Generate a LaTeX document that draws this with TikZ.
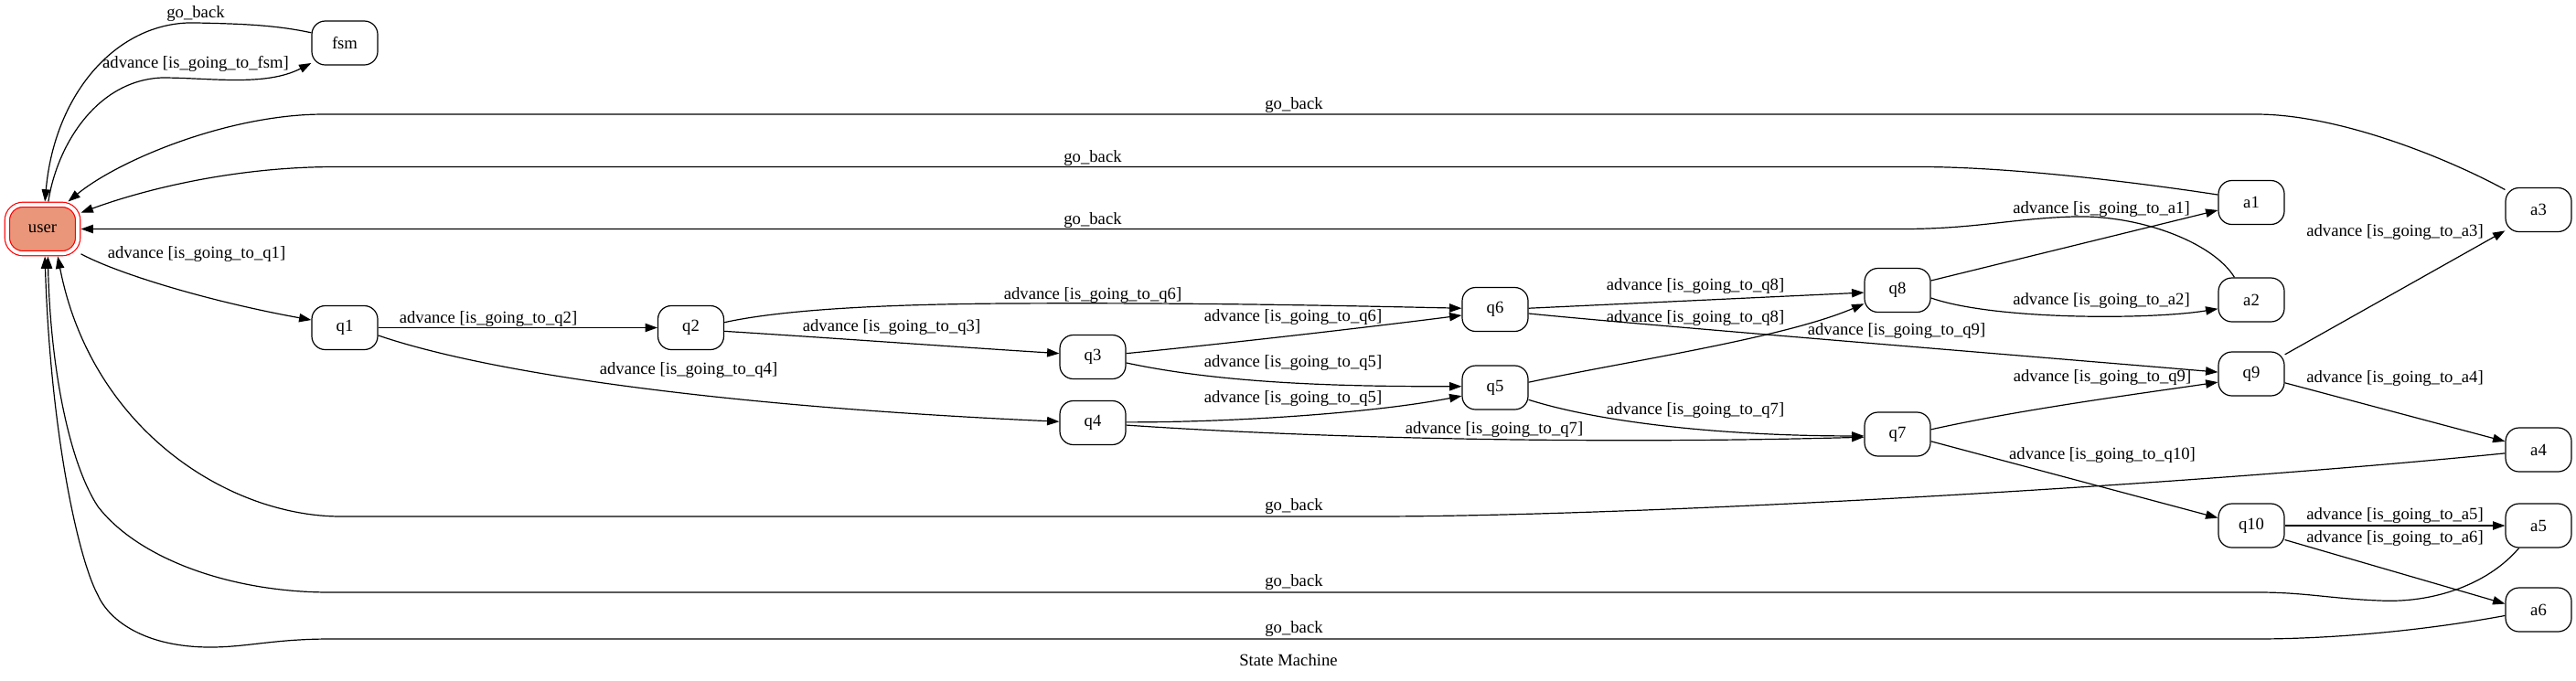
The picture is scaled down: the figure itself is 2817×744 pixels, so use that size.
\documentclass[tikz,border=0pt]{standalone}
\usepackage{fontspec}
\setmainfont{Liberation Serif}
\usetikzlibrary{arrows.meta}
\definecolor{salmonfill}{RGB}{233,150,122}
\begin{document}
\begin{tikzpicture}[x=0.75pt,y=-0.75pt,
  st/.style={draw, rounded corners=11pt, minimum width=54pt, minimum height=36pt, inner sep=0pt, font=\fontsize{14}{16}\selectfont, line width=0.9pt},
  startst/.style={draw=red, fill=salmonfill, double=white, double distance=3pt, rounded corners=13pt, minimum width=58pt, minimum height=40pt, inner sep=0pt, outer sep=2.5pt, line width=0.9pt, font=\fontsize{14}{16}\selectfont},
  lab/.style={font=\fontsize{14}{16}\selectfont, inner sep=0pt},
  edge/.style={draw, line width=0.9pt, -{Triangle[length=10pt,width=7pt]}},
]
\useasboundingbox (0,0) rectangle (2817,744);

% nodes
\node[startst] (user) at (46.5,250.5) {user};
\node[st] (fsm) at (377,47) {fsm};
\node[st] (q1) at (377,358.5) {q1};
\node[st] (q2) at (755.5,358.5) {q2};
\node[st] (q3) at (1195,390.5) {q3};
\node[st] (q4) at (1195,462.5) {q4};
\node[st] (q6) at (1635,338.5) {q6};
\node[st] (q5) at (1635,424) {q5};
\node[st] (q8) at (2075,317.5) {q8};
\node[st] (q7) at (2075,475) {q7};
\node[st] (a1) at (2462,221.5) {a1};
\node[st] (a2) at (2462,328) {a2};
\node[st] (q9) at (2462,409) {q9};
\node[st] (q10) at (2462,575) {q10};
\node[st] (a3) at (2776,229.5) {a3};
\node[st] (a4) at (2776,492) {a4};
\node[st] (a5) at (2776,575) {a5};
\node[st] (a6) at (2776,667) {a6};

% advance edges
\draw[edge] (user.78) .. controls (62,160) and (105,88) .. (177,85) .. controls (230,85) and (290,95) .. (fsm.211);
\draw[edge] (fsm.163) .. controls (300,27) and (260,26) .. (215,25) .. controls (130,22) and (60,100) .. (user.85);
\draw[edge] (user.-33) .. controls (130,300) and (230,330) .. (q1.167);
\draw[edge] (q1.east) -- (q2.west);
\draw[edge] (q1.-13) .. controls (540,410) and (800,445) .. (q4.178);
\draw[edge] (q2.-6) .. controls (914,370) and (1037,379) .. (q3.174);
\draw[edge] (q2.9) .. controls (850,340) and (950,333) .. (1100,332) .. controls (1300,331) and (1450,334) .. (q6.178);
\draw[edge] (q3.6) .. controls (1330,377) and (1480,360) .. (q6.190);
\draw[edge] (q3.-10) .. controls (1330,418) and (1450,423) .. (q5.178);
\draw[edge] (q4.1) .. controls (1350,462) and (1500,452) .. (q5.194);
\draw[edge] (q4.-4) .. controls (1450,480) and (1750,486) .. (q7.185);
\draw[edge] (q6.2) -- (q8.184);
\draw[edge] (q6.-7) .. controls (1780,354) and (2150,384) .. (q9.177);
\draw[edge] (q5.9) .. controls (1780,395) and (1950,370) .. (q8.202);
\draw[edge] (q5.-20) .. controls (1760,465) and (1900,477) .. (q7.183);
\draw[edge] (q8.16) -- (a1.193);
\draw[edge] (q8.-13) .. controls (2180,350) and (2350,350) .. (a2.195);
\draw[edge] (q7.8) .. controls (2210,448) and (2330,432) .. (q9.194);
\draw[edge] (q7.-12) -- (q10.167);
\draw[edge] (q9.30) -- (a3.212);
\draw[edge] (q9.-15) -- (a4.166);
\draw[edge] (q10.east) -- (a5.west);
\draw[edge] (q10.-23) -- (a6.170);

% go_back edges
\draw[edge] (a3.149) .. controls (2680,175) and (2560,125) .. (2467,125) -- (354,125) .. controls (250,125) and (130,175) .. (user.47);
\draw[edge] (a1.167) .. controls (2340,200) and (2200,182.5) .. (2099,182.5) -- (367,182.5) .. controls (250,182.5) and (150,210) .. (user.23);
\draw[edge] (a2.127) .. controls (2420,265) and (2340,235) .. (2268,237) .. controls (2200,239) and (2160,250.5) .. (2080,250.5) -- (user.east);
\draw[edge] (a4.186) .. controls (2400,530) and (1800,565) .. (1500,565) -- (373,565) .. controls (250,565) and (100,470) .. (user.-61);
\draw[edge] (a5.229) .. controls (2720,640) and (2660,660) .. (2602,657) .. controls (2550,655) and (2520,648) .. (2470,648) -- (361,648) .. controls (250,648) and (150,610) .. (107,554) .. controls (75,505) and (55,400) .. (user.-79);
\draw[edge] (a6.190) .. controls (2650,690) and (2550,699) .. (2467,699) -- (361,699) .. controls (300,699) and (270,708) .. (230,708) .. controls (160,708) and (120,680) .. (107,651) .. controls (85,610) and (55,470) .. (user.-85);

% labels
\node[lab] (l1) at (214,70) {advance [is\_going\_to\_fsm]};
\node[lab] (l2) at (214,15) {go\_back};
\node[lab] (l3) at (215,278) {advance [is\_going\_to\_q1]};
\node[lab] (l4) at (534,349) {advance [is\_going\_to\_q2]};
\node[lab] (l5) at (753,405) {advance [is\_going\_to\_q4]};
\node[lab] (l6) at (975,358) {advance [is\_going\_to\_q3]};
\node[lab] (l7) at (1195,323) {advance [is\_going\_to\_q6]};
\node[lab] (l8) at (1414,347) {advance [is\_going\_to\_q6]};
\node[lab] (l9) at (1414,397) {advance [is\_going\_to\_q5]};
\node[lab] (l10) at (1414,436) {advance [is\_going\_to\_q5]};
\node[lab] (l11) at (1634,470) {advance [is\_going\_to\_q7]};
\node[lab] (l12) at (1854,313) {advance [is\_going\_to\_q8]};
\node[lab] (l13) at (1854,348) {advance [is\_going\_to\_q8]};
\node[lab] (l14) at (1854,449) {advance [is\_going\_to\_q7]};
\node[lab] (l15) at (2074,362) {advance [is\_going\_to\_q9]};
\node[lab] (l16) at (2298,229) {advance [is\_going\_to\_a1]};
\node[lab] (l17) at (2298,329) {advance [is\_going\_to\_a2]};
\node[lab] (l18) at (2299,413) {advance [is\_going\_to\_q9]};
\node[lab] (l19) at (2299,498) {advance [is\_going\_to\_q10]};
\node[lab] (l20) at (2619,254) {advance [is\_going\_to\_a3]};
\node[lab] (l21) at (2619,414) {advance [is\_going\_to\_a4]};
\node[lab] (l22) at (2619,564) {advance [is\_going\_to\_a5]};
\node[lab] (l23) at (2619,589) {advance [is\_going\_to\_a6]};
\node[lab] (g1) at (1415,115) {go\_back};
\node[lab] (g2) at (1195,173) {go\_back};
\node[lab] (g3) at (1195,241) {go\_back};
\node[lab] (g4) at (1415,554) {go\_back};
\node[lab] (g5) at (1415,637) {go\_back};
\node[lab] (g6) at (1415,688) {go\_back};
\node[lab] (title) at (1409,722) {State Machine};
\end{tikzpicture}
\end{document}
